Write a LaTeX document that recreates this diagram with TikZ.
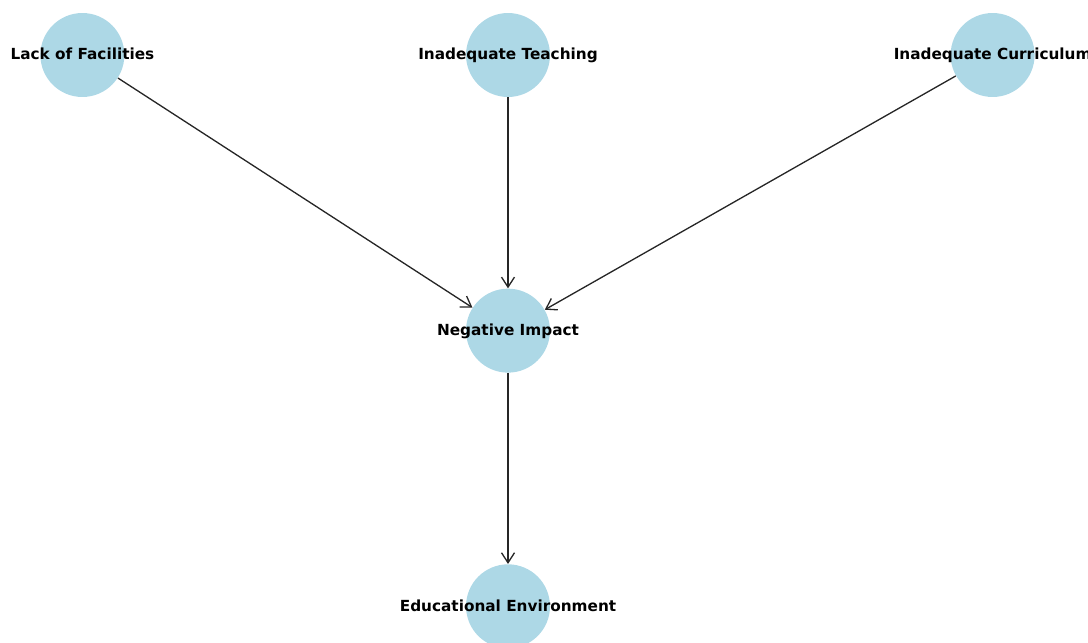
\documentclass[tikz,border=0pt]{standalone}
\usepackage{fontspec}
\setmainfont{DejaVu Sans}
\usetikzlibrary{positioning,arrows.meta}

\definecolor{nodeblue}{HTML}{ADD8E6}

\tikzset{
  factor/.style={circle, fill=nodeblue, minimum size=1.68cm, inner sep=0pt,
    label={[font=\bfseries\fontsize{8.7}{10}\selectfont, text=black,
      text height=0.75em, text depth=0.2em]center:#1}},
  link/.style={draw=black!85, line width=0.75pt, -{Straight Barb[length=2mm,width=2.6mm]}}
}

\begin{document}
\begin{tikzpicture}[x=0.02cm, y=-0.02cm, node distance=3.82cm]

      % Frame
      \path[use as bounding box, clip] (0,0) rectangle (1088,642);

      % Define nodes
      \node[factor={Inadequate Teaching}]                     (teach) at (508,55) {};
      \node[factor={Lack of Facilities}, left=6.82cm of teach]  (facil) {};
      \node[factor={Inadequate Curriculum}, right=8.0cm of teach] (curric) {};
      \node[factor={Negative Impact}, below=of teach]          (impact) {};
      \node[factor={Educational Environment}, below=of impact] (env) {};

      % Connect the nodes
      \draw[link] (facil) -- (impact);
      \draw[link] (teach) -- (impact);
      \draw[link] (curric) -- (impact);
      \draw[link] (impact) -- (env);

\end{tikzpicture}
\end{document}
